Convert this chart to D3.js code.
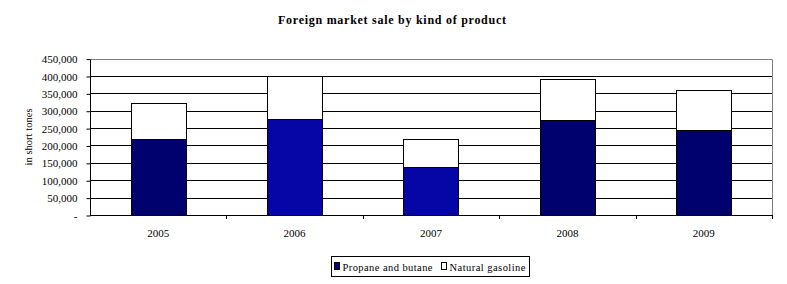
<!DOCTYPE html>
<meta charset="utf-8">
<style>
  body { margin: 0; background: #fff; }
  text { font-family: "Liberation Serif", "Times New Roman", serif; fill: #000; }
</style>
<svg width="787" height="284"></svg>
<script src="https://d3js.org/d3.v7.min.js"></script>
<script>

var years = ["2005", "2006", "2007", "2008", "2009"],
    propane = [220000, 275000, 139000, 272000, 246000],
    gasoline = [102000, 125000, 79000, 119000, 113000],
    yTicks = [0, 50000, 100000, 150000, 200000, 250000, 300000, 350000, 400000, 450000],
    seriesNames = ["Propane and butane", "Natural gasoline"];

var propaneFill = {"2005": "#00006e", "2006": "#0606a6", "2007": "#0606a6", "2008": "#00006e", "2009": "#00006e"};

var svg = d3.select("svg"),
    plotL = 90, plotR = 772, plotT = 58.6, plotB = 215;

var x = d3.scaleBand().domain(years).range([plotL, plotR]);
var y = d3.scaleLinear().domain([0, 450000]).range([plotB, plotT]);
var barW = x.bandwidth() * 0.405;

svg.append("text")
    .attr("x", 278).attr("y", 24)
    .attr("textLength", 228)
    .style("font-size", "12px").style("font-weight", "bold")
    .text("Foreign market sale by kind of product");

// gridlines
svg.append("g").selectAll("line")
  .data(yTicks.slice(1, -1))
  .join("line")
    .attr("x1", plotL).attr("x2", plotR)
    .attr("y1", function(d) { return Math.round(y(d)) + 0.5; })
    .attr("y2", function(d) { return Math.round(y(d)) + 0.5; })
    .attr("stroke", "#000");

// plot border (top / right)
svg.append("path")
    .attr("d", "M" + plotL + "," + (Math.round(plotT) + 0.5) + "H" + (plotR + 0.5) + "V" + plotB)
    .attr("fill", "none").attr("stroke", "#808080");

var stack = years.map(function(yr, i) {
  return {year: yr, p: propane[i], g: gasoline[i]};
});

function barX(d) { return Math.round(x(d.year) + (x.bandwidth() - barW) / 2) + 0.5; }

var bars = svg.append("g").selectAll("g").data(stack).join("g");
bars.append("rect")
    .attr("x", barX)
    .attr("width", Math.round(barW))
    .attr("y", function(d) { return Math.round(y(d.p + d.g)) + 0.5; })
    .attr("height", function(d) { return Math.round(y(d.p)) - Math.round(y(d.p + d.g)); })
    .attr("fill", "#fff").attr("stroke", "#000");
bars.append("rect")
    .attr("x", barX)
    .attr("width", Math.round(barW))
    .attr("y", function(d) { return Math.round(y(d.p)) + 0.5; })
    .attr("height", function(d) { return Math.round(y(0)) - Math.round(y(d.p)); })
    .attr("fill", function(d) { return propaneFill[d.year]; })
    .attr("stroke", "#000");

// y axis
var yAxis = svg.append("g")
    .attr("transform", "translate(" + (plotL + 0.5) + ",0.5)")
    .call(d3.axisLeft(y).tickValues(yTicks).tickSize(4).tickPadding(9)
      .tickFormat(function(d) { return d === 0 ? "-" : d3.format(",")(d); }));
yAxis.selectAll("path, line").attr("stroke", "#000");
yAxis.selectAll("text").style("font-size", "11px");
yAxis.select(".domain").attr("d", "M0," + Math.round(plotT) + "V" + Math.round(plotB));

// x axis
var xAxis = svg.append("g")
    .attr("transform", "translate(0," + (Math.round(plotB) + 0.5) + ")")
    .call(d3.axisBottom(x).tickSize(0).tickPadding(14));
xAxis.select(".domain").attr("d", "M" + plotL + ",0H" + (plotR + 0.5)).attr("stroke", "#000");
xAxis.selectAll("text").style("font-size", "11px");
svg.append("g").selectAll("line")
  .data(years.slice(1).concat(["end"]))
  .join("line")
    .attr("x1", function(d) { return d === "end" ? plotR + 0.5 : Math.round(x(d)) + 0.5; })
    .attr("x2", function(d) { return d === "end" ? plotR + 0.5 : Math.round(x(d)) + 0.5; })
    .attr("y1", plotB).attr("y2", plotB + 4)
    .attr("stroke", "#000");

svg.append("text")
    .attr("transform", "translate(32,137) rotate(-90)")
    .attr("text-anchor", "middle")
    .attr("textLength", 57)
    .style("font-size", "10.5px")
    .text("in short tones");

// legend
var lg = svg.append("g").attr("transform", "translate(331.5,256.5)");
lg.append("rect").attr("width", 198).attr("height", 20).attr("fill", "#fff").attr("stroke", "#000");
var items = lg.selectAll("g.item").data(seriesNames).join("g")
    .attr("class", "item")
    .attr("transform", function(d, i) { return "translate(" + (i === 0 ? 3 : 110) + ",0)"; });
items.append("rect")
    .attr("y", 6).attr("width", 5).attr("height", 7)
    .attr("fill", function(d, i) { return i === 0 ? "#00006e" : "#fff"; })
    .attr("stroke", "#000");
items.append("text")
    .attr("x", 8).attr("y", 14)
    .attr("textLength", function(d, i) { return i === 0 ? 90 : 76; })
    .style("font-size", "10.5px")
    .text(function(d) { return d; });

</script>
